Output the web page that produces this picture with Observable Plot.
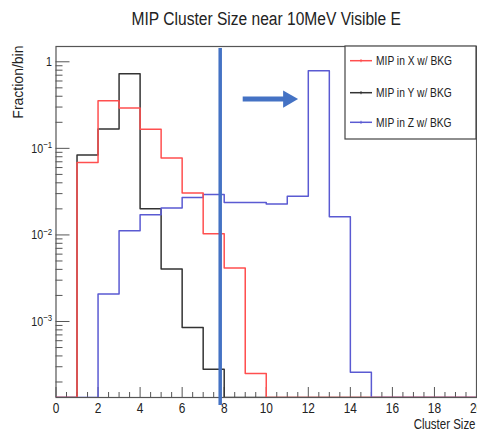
<!DOCTYPE html>
<html><head><meta charset="utf-8">
<script src="https://cdn.jsdelivr.net/npm/d3@7"></script>
<script src="https://cdn.jsdelivr.net/npm/@observablehq/plot@0.6"></script>
<style>body{margin:0;background:#fff} svg{display:block}</style>
</head><body><div id="chart"></div>
<script>
const title = "MIP Cluster Size near 10MeV Visible E";
const xLabel = "Cluster Size";
const yLabel = "Fraction/bin";
const seriesNames = ["MIP in X w/ BKG", "MIP in Y w/ BKG", "MIP in Z w/ BKG"];
const seriesColors = ["#ff4f4f", "#333333", "#5a5ad2"];
// bin contents for bins [0,1), [1,2), ... [19,20)
const valuesX = [0, 0.0687, 0.355, 0.292, 0.166, 0.0773, 0.0305, 0.0103, 0.00414, 0.000251, 0, 0, 0, 0, 0, 0, 0, 0, 0, 0];
const valuesY = [0, 0.0837, 0.167, 0.727, 0.0201, 0.00404, 0.00085, 0.00028, 0, 0, 0, 0, 0, 0, 0, 0, 0, 0, 0, 0];
const valuesZ = [0, 0, 0.00208, 0.0112, 0.0171, 0.0204, 0.0271, 0.0294, 0.0237, 0.0237, 0.0227, 0.0279, 0.787, 0.0162, 0.000259, 0, 0, 0, 0, 0];
const xTicks = [0, 2, 4, 6, 8, 10, 12, 14, 16, 18, 20];
const yTicks = [0.001, 0.01, 0.1, 1];
const yTickLabels = ["10^-3", "10^-2", "10^-1", "1"];
const cutX = [7.81];
const arrowShaft = [{x1: 8.88, x2: 10.85, y: 0.371}];
const arrowHead = [{x: 11.04, y: 0.371}];

const xDomain = [0, 20];
const yDomain = [1.324e-4, 1.502];
const W = 477, H = 432;
const mL = 55.5, mR = 1, mT = 46, mB = 35;
const frameW = W - mL - mR, frameH = H - mT - mB;
const FONT = "'Liberation Sans', Arial, Helvetica, sans-serif";
const SQUEEZE = 0.82; // reference glyphs are horizontally condensed

const xMinor = d3.range(0, 20.01, 0.5).filter(v => !xTicks.includes(v));
const yMinor = [];
for (let e = -4; e <= 0; e++) for (let m = 2; m <= 9; m++) {
  const v = m * Math.pow(10, e);
  if (v > yDomain[0] && v < yDomain[1]) yMinor.push(v);
}

function stepData(vals, name) {
  const out = vals.map((v, i) => ({x: i, y: v > 0 ? v : yDomain[0], s: name}));
  out.push({x: vals.length, y: out[out.length - 1].y, s: name});
  return out;
}
const series = [stepData(valuesY, seriesNames[1]), stepData(valuesZ, seriesNames[2]), stepData(valuesX, seriesNames[0])];
const colorOf = {[seriesNames[0]]: seriesColors[0], [seriesNames[1]]: seriesColors[1], [seriesNames[2]]: seriesColors[2]};

const axisColor = "#555";
const chart = Plot.plot({
  width: W, height: H,
  marginLeft: mL, marginRight: mR, marginTop: mT, marginBottom: mB,
  style: {fontFamily: FONT, background: "#fff", color: "#222"},
  x: {domain: xDomain},
  y: {type: "log", domain: yDomain},
  marks: [
    Plot.frame({stroke: axisColor, strokeWidth: 1.2}),
    Plot.tickX(xTicks, {x: d => d, stroke: axisColor, insetTop: frameH - 10}),
    Plot.tickX(xMinor, {x: d => d, stroke: axisColor, insetTop: frameH - 5}),
    Plot.tickY(yTicks, {y: d => d, stroke: axisColor, insetRight: frameW - 14}),
    Plot.tickY(yMinor, {y: d => d, stroke: axisColor, insetRight: frameW - 7}),
    Plot.axisX({ticks: xTicks, tickSize: 0, tickPadding: 5, fontSize: 14.5, label: null, tickFormat: d => String(d)}),
    Plot.axisY({ticks: yTicks, tickSize: 0, tickPadding: 4, fontSize: 13, label: null,
      tickFormat: d => yTickLabels[yTicks.indexOf(d)]}),
    ...series.map(s => Plot.line(s, {x: "x", y: "y", curve: "step-after", stroke: colorOf[s[0].s], strokeWidth: 1.5, clip: true})),
    Plot.ruleX(cutX, {stroke: "#4472c4", strokeWidth: 3.5, insetTop: 2, insetBottom: -8}),
    Plot.link(arrowShaft, {x1: "x1", x2: "x2", y1: "y", y2: "y", stroke: "#4472c4", strokeWidth: 5}),
    Plot.dot(arrowHead, {x: "x", y: "y", symbol: "triangle", r: 6.4, rotate: 90, fill: "#4472c4", stroke: "none"}),
    Plot.text([title], {frameAnchor: "top", dy: -22, lineAnchor: "bottom", fontSize: 19, fill: "#222"}),
    Plot.text([xLabel], {frameAnchor: "bottom-right", dx: -1, dy: 31, lineAnchor: "bottom", textAnchor: "end", fontSize: 14, fill: "#222"}),
    Plot.text([yLabel], {frameAnchor: "top-left", dx: -37, dy: -1, rotate: -90, textAnchor: "end", lineAnchor: "middle", fontSize: 14, fill: "#222"})
  ]
});

const svg = d3.select(chart);
// superscript tick labels
svg.selectAll('g[aria-label="y-axis tick label"] text').each(function() {
  const t = d3.select(this);
  const s = t.text();
  if (s.includes("^")) {
    const [b, e] = s.split("^");
    t.text(null);
    t.append("tspan").text(b);
    t.append("tspan").attr("dy", "-0.45em").attr("font-size", "9.5px").text(e.replace("-", "\u2212"));
  }
});

// condense horizontally written texts about their anchor point
svg.selectAll("text").each(function() {
  const t = d3.select(this);
  if (t.text() === yLabel) return;
  const tr = t.attr("transform");
  if (tr) {
    t.attr("transform", tr + ` scale(${SQUEEZE},1)`);
  } else {
    const x = +(t.attr("x") || 0), y = +(t.attr("y") || 0);
    t.attr("x", null).attr("y", null).attr("transform", `translate(${x},${y}) scale(${SQUEEZE},1)`);
  }
});

// legend box (ROOT TLegend style)
const lg = svg.append("g").attr("font-family", FONT).attr("font-size", 12.5).attr("text-anchor", "start");
const lx0 = 345, ly0 = mT, lw = W - mR - lx0, lh = 93;
lg.append("rect").attr("x", lx0).attr("y", ly0).attr("width", lw).attr("height", lh)
  .attr("fill", "#fff").attr("stroke", "#444").attr("stroke-width", 1.2);
const rowY = [60.7, 92.7, 122.3];
seriesNames.forEach((n, i) => {
  const y = rowY[i];
  lg.append("line").attr("x1", 350).attr("x2", 372).attr("y1", y).attr("y2", y)
    .attr("stroke", seriesColors[i]).attr("stroke-width", 1.5);
  lg.append("line").attr("x1", 361).attr("x2", 361).attr("y1", y - 1.5).attr("y2", y + 1.5)
    .attr("stroke", seriesColors[i]).attr("stroke-width", 1);
  lg.append("text").attr("transform", `translate(376,${y}) scale(${SQUEEZE},1)`)
    .attr("dy", "0.35em").attr("fill", "#222").text(n);
});

document.getElementById("chart").append(chart);
</script>
</body></html>
